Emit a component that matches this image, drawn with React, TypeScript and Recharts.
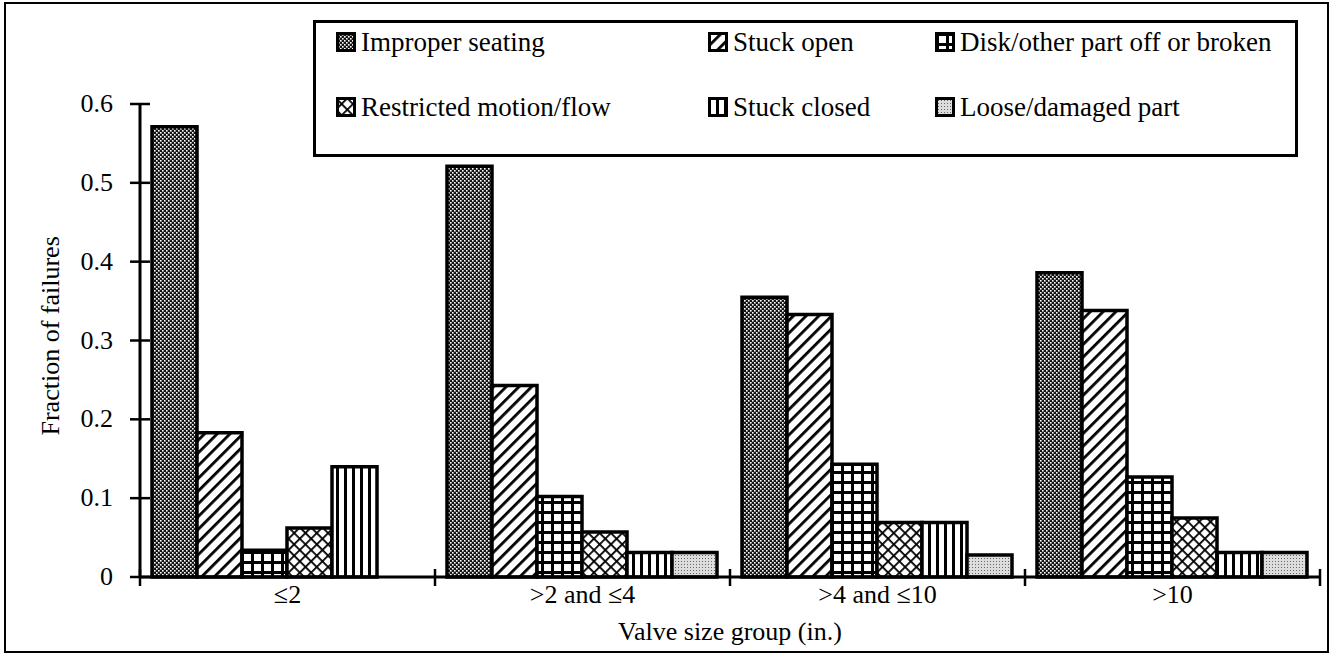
import React from "react";
import { BarChart, Bar, XAxis, YAxis, Legend } from "recharts";

const categories = ["≤2", ">2 and ≤4", ">4 and ≤10", ">10"];
const improperSeating = [0.571, 0.521, 0.355, 0.386];
const stuckOpen = [0.183, 0.243, 0.333, 0.338];
const diskOff = [0.034, 0.102, 0.143, 0.127];
const restrictedMotion = [0.062, 0.057, 0.069, 0.075];
const stuckClosed = [0.14, 0.031, 0.069, 0.031];
const looseDamaged = [0, 0.031, 0.028, 0.031];
const yTicks = [0, 0.1, 0.2, 0.3, 0.4, 0.5, 0.6];

const series = [
  { key: "improper", name: "Improper seating", values: improperSeating, fill: "url(#p-improper)" },
  { key: "open", name: "Stuck open", values: stuckOpen, fill: "url(#p-open)" },
  { key: "disk", name: "Disk/other part off or broken", values: diskOff, fill: "url(#p-disk)" },
  { key: "restricted", name: "Restricted motion/flow", values: restrictedMotion, fill: "url(#p-restricted)" },
  { key: "closed", name: "Stuck closed", values: stuckClosed, fill: "url(#p-closed)" },
  { key: "loose", name: "Loose/damaged part", values: looseDamaged, fill: "url(#p-loose)" },
];

const data = categories.map((c, i) => {
  const row: Record<string, string | number> = { group: c };
  series.forEach((s) => (row[s.key] = s.values[i]));
  return row;
});

const FONT = "'Liberation Serif', 'Times New Roman', serif";

// hatch fills, referenced by url(#id) from the bars and the legend swatches
const Patterns = () => (
  <svg width={0} height={0} style={{ position: "absolute" }}>
    <defs>
      <pattern id="p-improper" width={4} height={4} patternUnits="userSpaceOnUse">
        <rect width={4} height={4} fill="#151515" />
        <rect x={0} y={0} width={1.6} height={1.6} fill="#fff" />
        <rect x={2} y={2} width={1.6} height={1.6} fill="#fff" />
      </pattern>
      <pattern id="p-open" width={9} height={9} patternUnits="userSpaceOnUse" patternTransform="rotate(45)">
        <rect width={9} height={9} fill="#fff" />
        <rect x={0} y={0} width={2.8} height={9} fill="#000" />
      </pattern>
      <pattern id="p-disk" width={10} height={10} patternUnits="userSpaceOnUse" x={1} y={1}>
        <rect width={10} height={10} fill="#000" />
        <rect x={3} y={3} width={7} height={7} fill="#fff" />
      </pattern>
      <pattern id="p-restricted" width={8} height={8} patternUnits="userSpaceOnUse" patternTransform="rotate(45)">
        <rect width={8} height={8} fill="#fff" />
        <rect x={0} y={0} width={1.8} height={8} fill="#000" />
        <rect x={0} y={0} width={8} height={1.8} fill="#000" />
      </pattern>
      <pattern id="p-closed" width={8} height={8} patternUnits="userSpaceOnUse">
        <rect width={8} height={8} fill="#fff" />
        <rect x={0} y={0} width={3} height={8} fill="#000" />
      </pattern>
      <pattern id="p-loose" width={3} height={3} patternUnits="userSpaceOnUse">
        <rect width={3} height={3} fill="#ddd" />
        <rect x={0} y={0} width={1} height={1} fill="#666" />
      </pattern>
    </defs>
  </svg>
);

const YTick = (props: any) => {
  const { x, y, payload } = props;
  return (
    <g>
      <line x1={x + 17} x2={x + 37} y1={y} y2={y} stroke="#000" strokeWidth={2.5} />
      <text x={x} y={y} dy={8} textAnchor="end" fontFamily={FONT} fontSize={26} fill="#000">
        {payload.value === 0 ? "0" : payload.value.toFixed(1)}
      </text>
    </g>
  );
};

const XTick = (props: any) => {
  const { x, y, payload, index } = props;
  const half = payload.offset || 147.5;
  return (
    <g>
      <line x1={x - half} x2={x - half} y1={y - 8} y2={y + 9} stroke="#000" strokeWidth={2.5} />
      {index === categories.length - 1 && (
        <line x1={x + half} x2={x + half} y1={y - 8} y2={y + 9} stroke="#000" strokeWidth={2.5} />
      )}
      <text x={x} y={y} dy={26} textAnchor="middle" fontFamily={FONT} fontSize={26} fill="#000">
        {payload.value}
      </text>
    </g>
  );
};

const legendCols = [23, 395, 622];

const LegendBox = () => (
  <div
    style={{
      width: 985,
      height: 137,
      border: "3px solid #000",
      boxSizing: "border-box",
      position: "relative",
      background: "#fff",
      fontFamily: FONT,
      fontSize: 27,
      color: "#000",
    }}
  >
    {series.map((s, i) => {
      const col = i % 3;
      const row = Math.floor(i / 3);
      return (
        <div
          key={s.key}
          style={{
            position: "absolute",
            left: legendCols[col] - 3,
            top: row === 0 ? 4 : 69,
            display: "flex",
            alignItems: "center",
            whiteSpace: "nowrap",
            height: 30,
          }}
        >
          <svg width={20} height={20} style={{ marginRight: 5 }}>
            <rect x={1.5} y={1.5} width={17} height={17} fill={s.fill} stroke="#000" strokeWidth={3} />
          </svg>
          <span>{s.name}</span>
        </div>
      );
    })}
  </div>
);

export default function App() {
  return (
    <div style={{ position: "absolute", left: 0, top: 0, width: 1335, height: 657, background: "#fff" }}>
      <Patterns />
      <div
        style={{
          position: "absolute",
          left: 4,
          top: 2,
          width: 1325,
          height: 651,
          border: "2.5px solid #000",
          boxSizing: "border-box",
        }}
      />
      <BarChart
        width={1335}
        height={657}
        data={data}
        margin={{ top: 104, right: 15, bottom: 20, left: 80 }}
        barCategoryGap={12}
        barGap={0}
        style={{ position: "absolute", left: 0, top: 0 }}
      >
        <XAxis
          dataKey="group"
          height={60}
          axisLine={{ stroke: "#000", strokeWidth: 3 }}
          tickLine={false}
          tickSize={0}
          tickMargin={0}
          tick={<XTick />}
          interval={0}
          label={{ value: "Valve size group (in.)", position: "insideBottom", offset: 0, fontFamily: FONT, fontSize: 26, fill: "#000", dy: 3 }}
        />
        <YAxis
          width={60}
          domain={[0, 0.6]}
          ticks={yTicks}
          interval={0}
          axisLine={{ stroke: "#000", strokeWidth: 3 }}
          tickLine={false}
          tickSize={0}
          tickMargin={27}
          tick={<YTick />}
          label={{ value: "Fraction of failures", angle: -90, position: "insideLeft", offset: 0, fontFamily: FONT, fontSize: 26, fill: "#000", dx: -30, dy: 95 }}
        />
        <Legend
          layout="horizontal"
          verticalAlign="middle"
          align="center"
          wrapperStyle={{ position: "absolute", left: 313, top: 20, width: 985, height: 137 }}
          content={() => <LegendBox />}
        />
        {series.map((s) => (
          <Bar
            key={s.key}
            dataKey={s.key}
            name={s.name}
            fill={s.fill}
            stroke="#000"
            strokeWidth={3.5}
            isAnimationActive={false}
          />
        ))}
      </BarChart>
    </div>
  );
}
